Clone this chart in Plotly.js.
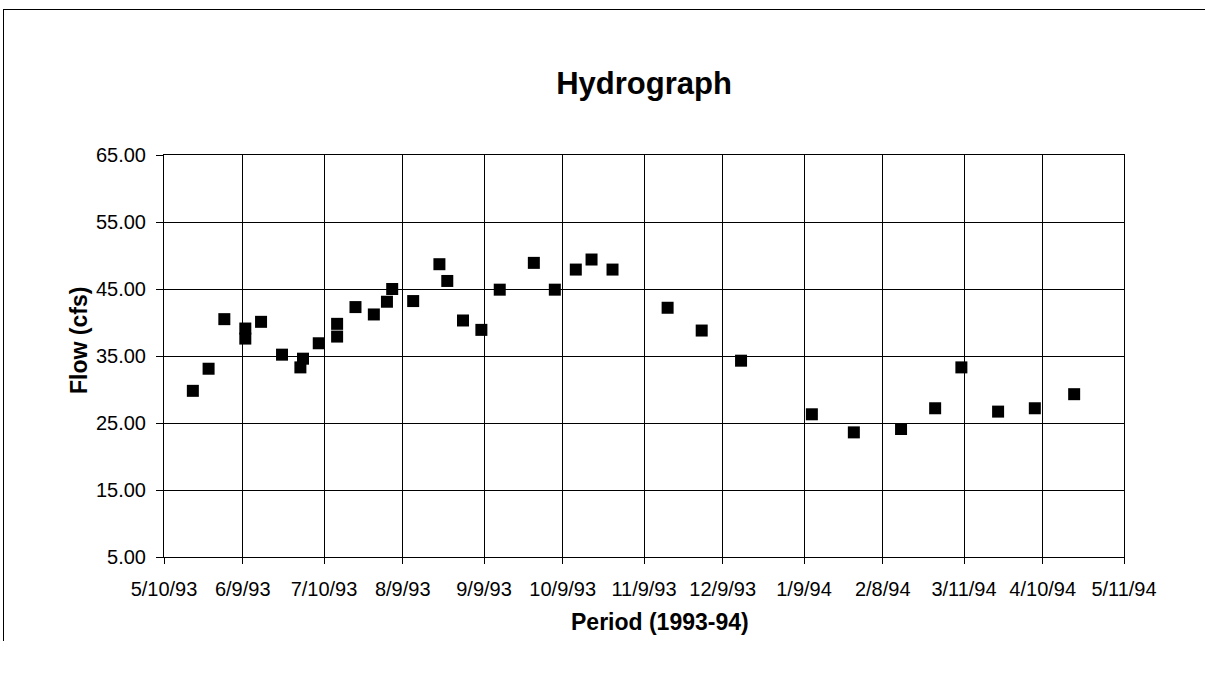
<!DOCTYPE html>
<html>
<head>
<meta charset="utf-8">
<script src="https://cdn.plot.ly/plotly-3.0.1.min.js"></script>
<style>
  html, body { margin: 0; padding: 0; background: #fff; }
  #chart { width: 1205px; height: 675px; position: absolute; left: 0; top: 0; }
  #frame { position: absolute; left: 3px; top: 9px; width: 1210px; height: 631px;
           border-top: 1px solid #000; border-left: 1px solid #000; pointer-events: none; }
</style>
</head>
<body>
<div id="chart"></div>
<div id="frame"></div>
<script>
const sampleDates = [
  '1993-05-21','1993-05-27','1993-06-02','1993-06-10','1993-06-10','1993-06-16',
  '1993-06-24','1993-07-02','1993-07-01','1993-07-08','1993-07-15','1993-07-15',
  '1993-07-22','1993-07-29','1993-08-03','1993-08-05','1993-08-13','1993-08-23',
  '1993-08-26','1993-09-01','1993-09-08','1993-09-15','1993-09-28','1993-10-06',
  '1993-10-14','1993-10-20','1993-10-28','1993-11-18','1993-12-01','1993-12-16',
  '1994-01-12','1994-01-28','1994-02-15','1994-02-28','1994-03-10','1994-03-24',
  '1994-04-07','1994-04-22'
];
const flowCfs = [
  29.8, 33.1, 40.5, 39.1, 37.6, 40.1,
  35.2, 34.6, 33.3, 36.9, 39.8, 37.9,
  42.3, 41.2, 43.1, 45.0, 43.2, 48.7,
  46.2, 40.3, 38.9, 44.9, 48.9, 44.9,
  47.9, 49.4, 47.9, 42.2, 38.8, 34.3,
  26.3, 23.6, 24.1, 27.2, 33.3, 26.7,
  27.2, 29.3
];
const xTickVals = [
  '1993-05-10','1993-06-09','1993-07-10','1993-08-09','1993-09-09','1993-10-09',
  '1993-11-09','1993-12-09','1994-01-09','1994-02-08','1994-03-11','1994-04-10','1994-05-11'
];
const xTickText = [
  '5/10/93','6/9/93','7/10/93','8/9/93','9/9/93','10/9/93',
  '11/9/93','12/9/93','1/9/94','2/8/94','3/11/94','4/10/94','5/11/94'
];
const yTickVals = [5, 15, 25, 35, 45, 55, 65];
const yTickText = ['5.00','15.00','25.00','35.00','45.00','55.00','65.00'];

const chartTitle = 'Hydrograph';
const xTitle = 'Period (1993-94)';
const yTitle = 'Flow (cfs)';

const fontFam = 'Liberation Sans, Arial, sans-serif';

const trace = {
  x: sampleDates, y: flowCfs, type: 'scatter', mode: 'markers',
  marker: { symbol: 'square', size: 12, color: '#000' },
  hoverinfo: 'x+y'
};

const layout = {
  width: 1205, height: 675,
  margin: { l: 164, r: 81, t: 155, b: 118 },
  paper_bgcolor: '#fff', plot_bgcolor: '#fff',
  showlegend: false,
  title: { text: chartTitle, x: 0.5345, xanchor: 'center', y: 1 - 83 / 675, yanchor: 'middle',
           font: { family: fontFam, size: 31, color: '#000', weight: 'bold' } },
  xaxis: {
    type: 'date', range: ['1993-05-10', '1994-05-11'],
    tickmode: 'array', tickvals: xTickVals, ticktext: xTickText,
    showgrid: true, gridcolor: '#000', gridwidth: 1,
    showline: true, linecolor: '#000', linewidth: 1, mirror: true,
    ticks: 'outside', ticklen: 6, tickcolor: '#000',
    ticklabelstandoff: 8,
    tickfont: { family: fontFam, size: 20, color: '#000' },
    zeroline: false
  },
  yaxis: {
    range: [5, 65], tickmode: 'array', tickvals: yTickVals, ticktext: yTickText,
    showgrid: true, gridcolor: '#000', gridwidth: 1,
    showline: true, linecolor: '#000', linewidth: 1, mirror: true,
    ticks: 'outside', ticklen: 7, tickcolor: '#000',
    ticklabelstandoff: 6,
    tickfont: { family: fontFam, size: 20, color: '#000' },
    zeroline: false
  },
  annotations: [
    { text: xTitle, xref: 'paper', yref: 'paper', x: (660 - 164) / 960, y: (557 - 622) / 402,
      xanchor: 'center', yanchor: 'middle', showarrow: false,
      font: { family: fontFam, size: 23, color: '#000', weight: 'bold' } },
    { text: yTitle, xref: 'paper', yref: 'paper', x: (79 - 164) / 960, y: (557 - 341) / 402,
      xanchor: 'center', yanchor: 'middle', showarrow: false, textangle: -90,
      font: { family: fontFam, size: 23, color: '#000', weight: 'bold' } }
  ]
};

Plotly.newPlot('chart', [trace], layout, { displayModeBar: false, staticPlot: true });
</script>
</body>
</html>
